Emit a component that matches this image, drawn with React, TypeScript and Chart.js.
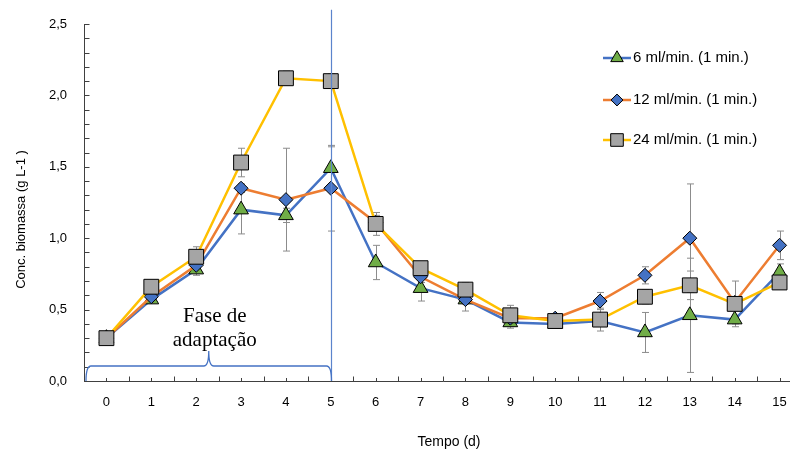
import React, { useEffect, useRef } from 'react';
import { Chart, registerables } from 'chart.js';
import { drawPoint } from 'chart.js/helpers';

Chart.register(...registerables);

// ---------- data ----------
const days = ['0', '1', '2', '3', '4', '5', '6', '7', '8', '9', '10', '11', '12', '13', '14', '15'];

const series6 = [0.30, 0.57, 0.78, 1.20, 1.16, 1.49, 0.83, 0.65, 0.57, 0.41, 0.40, 0.42, 0.34, 0.46, 0.43, 0.76];
const series12 = [0.30, 0.59, 0.81, 1.35, 1.27, 1.35, 1.11, 0.73, 0.57, 0.44, 0.44, 0.56, 0.74, 1.00, 0.55, 0.95];
const series24 = [0.30, 0.66, 0.87, 1.53, 2.12, 2.10, 1.10, 0.79, 0.64, 0.46, 0.42, 0.43, 0.59, 0.67, 0.54, 0.69];

const err6 = [0.01, 0.02, 0.04, 0.17, 0.05, 0.15, 0.12, 0.09, 0.03, 0.04, 0.02, 0.03, 0.14, 0.40, 0.03, 0.06];
const err12 = [0.01, 0.02, 0.03, 0.03, 0.36, 0.30, 0.05, 0.04, 0.08, 0.03, 0.02, 0.06, 0.06, 0.38, 0.03, 0.10];
const err24 = [0.01, 0.02, 0.07, 0.10, 0.05, 0.05, 0.08, 0.03, 0.05, 0.07, 0.03, 0.08, 0.05, 0.10, 0.16, 0.04];

const seriesLabels = ['6 ml/min. (1 min.)', '12 ml/min. (1 min.)', '24 ml/min. (1 min.)'];
const yAxisTitle = 'Conc. biomassa (g L-1 )';
const xAxisTitle = 'Tempo (d)';
const phaseText = ['Fase de', 'adaptação'];
const phaseEndDay = 5;

const Y_MIN = 0;
const Y_MAX = 2.5;

const AXIS_FONT = '"Liberation Sans", Arial, sans-serif';

const errorsByDataset = [err6, err12, err24];

const decorPlugin = {
  id: 'decor',
  beforeDatasetsDraw(chart: any) {
    const { ctx } = chart;
    const y = chart.scales.y;
    ctx.save();
    ctx.strokeStyle = '#8c8c8c';
    ctx.lineWidth = 1;
    chart.data.datasets.forEach((ds: any, i: number) => {
      const meta = chart.getDatasetMeta(i);
      const errs = errorsByDataset[ds.errIndex];
      meta.data.forEach((pt: any, j: number) => {
        const v = ds.data[j];
        const e = errs[j];
        if (!e) return;
        const x = Math.round(pt.x) + 0.5;
        const yt = y.getPixelForValue(v + e);
        const yb = y.getPixelForValue(v - e);
        ctx.beginPath();
        ctx.moveTo(x, yt);
        ctx.lineTo(x, yb);
        ctx.moveTo(x - 3.5, yt);
        ctx.lineTo(x + 3.5, yt);
        ctx.moveTo(x - 3.5, yb);
        ctx.lineTo(x + 3.5, yb);
        ctx.stroke();
      });
    });
    ctx.restore();
  },
  afterDraw(chart: any) {
    const { ctx, chartArea } = chart;
    const x = chart.scales.x;
    const y = chart.scales.y;
    ctx.save();

    // tick marks (inside)
    ctx.strokeStyle = '#404040';
    ctx.lineWidth = 1;
    const bottom = Math.round(y.getPixelForValue(0)) + 0.5;
    for (let k = -1; k <= days.length * 2 - 1; k++) {
      const v = k / 2;
      const px = Math.round(x.getPixelForValue(v)) + 0.5;
      const len = k % 2 === 0 ? 3.5 : 5;
      ctx.beginPath();
      ctx.moveTo(px, bottom);
      ctx.lineTo(px, bottom - len);
      ctx.stroke();
    }
    const left = Math.round(chartArea.left) + 0.5;
    for (let k = 0; k <= 25; k++) {
      const py = Math.round(y.getPixelForValue(k / 10)) + 0.5;
      ctx.beginPath();
      ctx.moveTo(left, py);
      ctx.lineTo(left + 5, py);
      ctx.stroke();
    }

    // axis titles
    ctx.fillStyle = '#000';
    ctx.font = '14px ' + AXIS_FONT;
    ctx.textAlign = 'center';
    ctx.textBaseline = 'middle';
    ctx.fillText(xAxisTitle, (chartArea.left + chartArea.right) / 2 + 6, 442);
    ctx.save();
    ctx.translate(21, (chartArea.top + chartArea.bottom) / 2 + 17);
    ctx.rotate(-Math.PI / 2);
    ctx.font = '13px ' + AXIS_FONT;
    ctx.fillText(yAxisTitle, 0, 0);
    ctx.restore();

    // vertical line at end of adaptation phase
    const vx = Math.round(x.getPixelForValue(phaseEndDay)) + 0.5;
    ctx.strokeStyle = '#5b84cc';
    ctx.lineWidth = 1.2;
    ctx.beginPath();
    ctx.moveTo(vx, y.getPixelForValue(2.6));
    ctx.lineTo(vx, y.getPixelForValue(0));
    ctx.stroke();

    // brace
    const x0 = chartArea.left + 2;
    const x1 = vx;
    const mid = (x0 + x1) / 2;
    const yb = y.getPixelForValue(0.105);
    const y0 = y.getPixelForValue(0);
    const yt = y.getPixelForValue(0.21);
    ctx.strokeStyle = '#4472c4';
    ctx.lineWidth = 1.3;
    ctx.beginPath();
    ctx.moveTo(x0, y0);
    ctx.quadraticCurveTo(x0, yb, x0 + 5, yb);
    ctx.lineTo(mid - 5, yb);
    ctx.quadraticCurveTo(mid, yb, mid, yt);
    ctx.quadraticCurveTo(mid, yb, mid + 5, yb);
    ctx.lineTo(x1 - 5, yb);
    ctx.quadraticCurveTo(x1, yb, x1, y0);
    ctx.stroke();

    // phase text
    ctx.fillStyle = '#000';
    ctx.font = '21px "Liberation Serif", "Times New Roman", serif';
    ctx.textAlign = 'center';
    ctx.textBaseline = 'alphabetic';
    const tx = mid + 6;
    ctx.fillText(phaseText[0], tx, y.getPixelForValue(0.413));
    ctx.fillText(phaseText[1], tx, y.getPixelForValue(0.245));

    // legend
    const lx0 = 603;
    const lx1 = 631;
    const lys = [58, 100, 140];
    chart.data.datasets
      .slice()
      .sort((a: any, b: any) => a.errIndex - b.errIndex)
      .forEach((ds: any, i: number) => {
        const ly = lys[i];
        ctx.strokeStyle = ds.borderColor;
        ctx.lineWidth = 2.5;
        ctx.beginPath();
        ctx.moveTo(lx0, ly);
        ctx.lineTo(lx1, ly);
        ctx.stroke();
        ctx.fillStyle = ds.pointBackgroundColor;
        ctx.strokeStyle = ds.pointBorderColor;
        ctx.lineWidth = 1;
        drawPoint(ctx, { pointStyle: ds.pointStyle, radius: ds.pointRadius * 0.85, borderWidth: 1, rotation: 0 }, (lx0 + lx1) / 2, ly);
        ctx.fillStyle = '#000';
        ctx.font = '15px ' + AXIS_FONT;
        ctx.textAlign = 'left';
        ctx.textBaseline = 'middle';
        ctx.fillText(ds.label, lx1 + 2, ly);
      });

    ctx.restore();
  },
};

export default function App() {
  const ref = useRef<HTMLCanvasElement | null>(null);

  useEffect(() => {
    if (!ref.current) return;
    const chart = new Chart(ref.current, {
      type: 'line',
      data: {
        labels: days,
        datasets: [
          {
            label: seriesLabels[2],
            errIndex: 2,
            data: series24,
            borderColor: '#ffc000',
            backgroundColor: '#ffc000',
            borderWidth: 2.5,
            pointStyle: 'rect',
            pointRadius: 10.5,
            pointBackgroundColor: '#a5a5a5',
            pointBorderColor: '#000',
            pointBorderWidth: 1,
            order: 1,
          } as any,
          {
            label: seriesLabels[1],
            errIndex: 1,
            data: series12,
            borderColor: '#ed7d31',
            backgroundColor: '#ed7d31',
            borderWidth: 2.5,
            pointStyle: 'rectRot',
            pointRadius: 7,
            pointBackgroundColor: '#4472c4',
            pointBorderColor: '#000',
            pointBorderWidth: 1,
            order: 2,
          } as any,
          {
            label: seriesLabels[0],
            errIndex: 0,
            data: series6,
            borderColor: '#4472c4',
            backgroundColor: '#4472c4',
            borderWidth: 2.5,
            pointStyle: 'triangle',
            pointRadius: 8.5,
            pointBackgroundColor: '#70ad47',
            pointBorderColor: '#000',
            pointBorderWidth: 1,
            order: 3,
          } as any,
        ],
      },
      options: {
        responsive: false,
        maintainAspectRatio: false,
        animation: false,
        layout: { autoPadding: false, padding: { left: 0, right: 0, top: 24, bottom: 0 } },
        plugins: {
          legend: { display: false },
          tooltip: { enabled: false },
        },
        scales: {
          x: {
            type: 'category',
            offset: true,
            grid: { display: false, drawTicks: false, offset: true },
            border: { display: true, color: '#404040', width: 1 },
            ticks: {
              color: '#000',
              font: { family: AXIS_FONT, size: 13 },
              padding: 14,
              maxRotation: 0,
              autoSkip: false,
            },
            title: { display: false },
            afterFit: (s: any) => {
              s.height = 69;
              s.paddingLeft = 0;
              s.paddingRight = 0;
            },
          },
          y: {
            min: Y_MIN,
            max: Y_MAX,
            grid: { display: false, drawTicks: false },
            border: { display: true, color: '#404040', width: 1 },
            ticks: {
              stepSize: 0.5,
              color: '#000',
              font: { family: AXIS_FONT, size: 13 },
              padding: 17,
              callback: (v: any) => Number(v).toFixed(1).replace('.', ','),
            },
            title: { display: false },
            afterFit: (s: any) => {
              s.width = 84;
              s.paddingTop = 0;
              s.paddingBottom = 0;
            },
          },
        },
      },
      plugins: [decorPlugin],
    });
    return () => chart.destroy();
  }, []);

  return (
    <div style={{ position: 'absolute', left: 0, top: 0, width: 790, height: 450, overflow: 'hidden', background: '#fff' }}>
      <canvas ref={ref} width={802} height={450} style={{ display: 'block', width: 802, height: 450 }} />
    </div>
  );
}
